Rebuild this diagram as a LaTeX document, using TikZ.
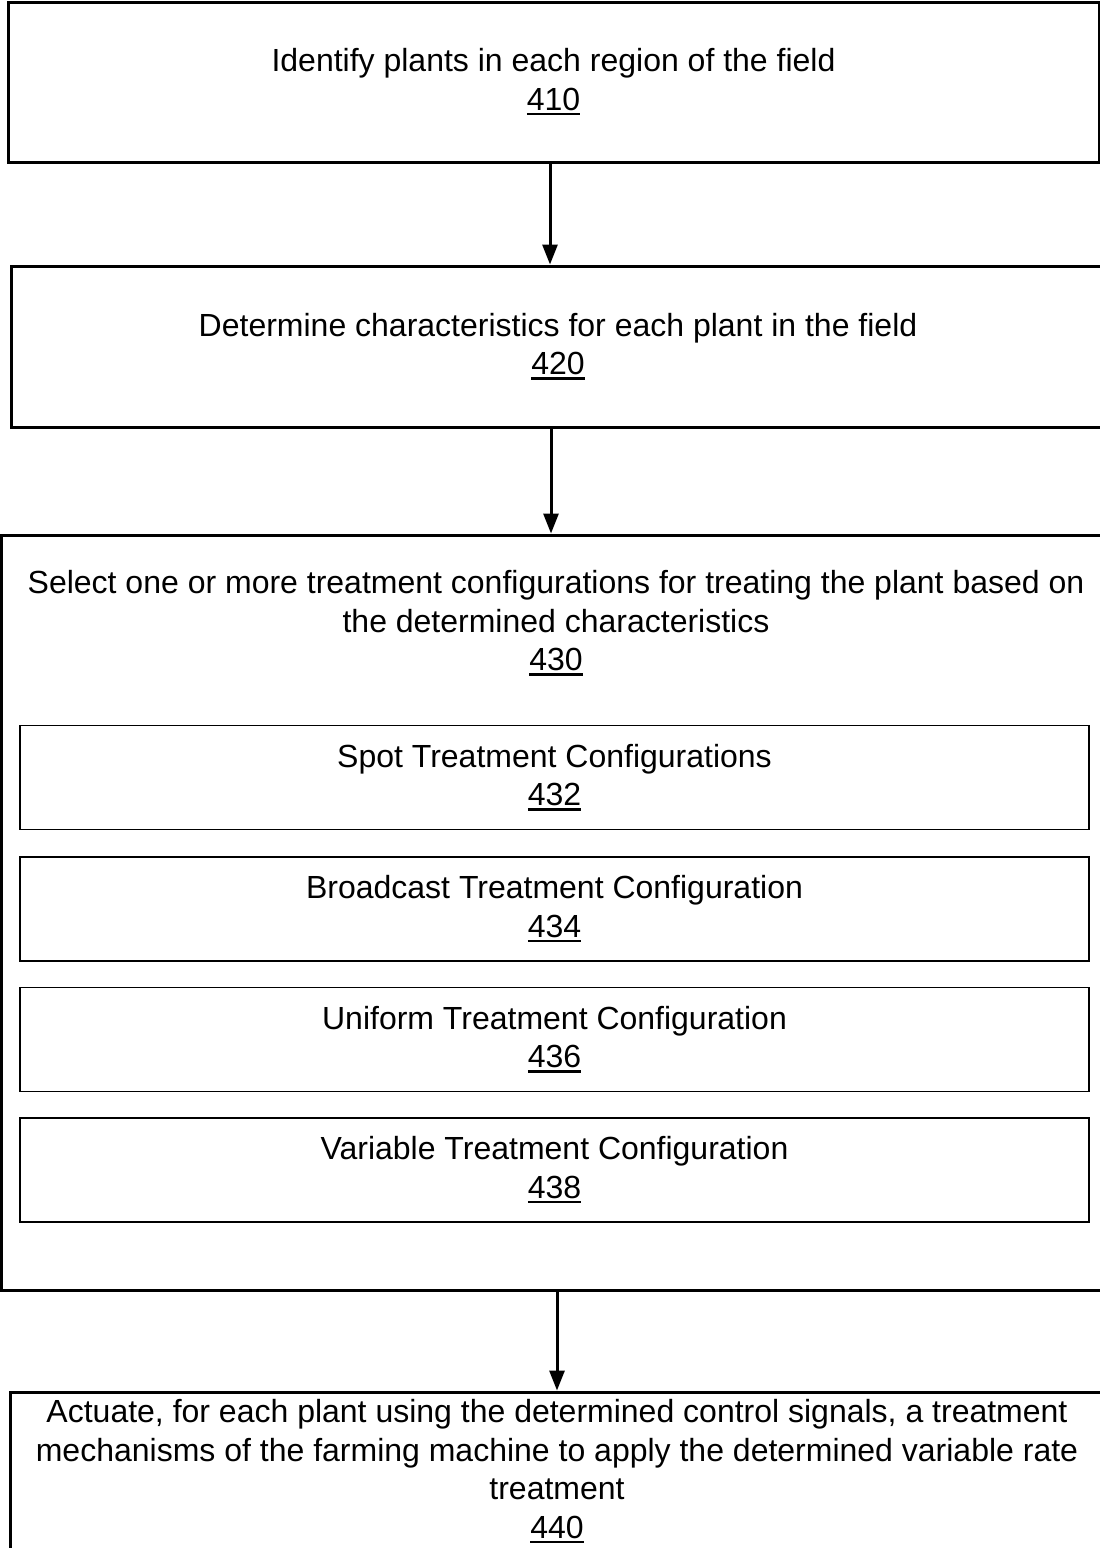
\documentclass[tikz,border=0pt]{standalone}
\usepackage{fontspec}
\setmainfont{Liberation Sans}
\usetikzlibrary{arrows.meta}
% reference numeral with a firm underline
\newcommand{\refnum}[1]{\setbox0=\hbox{#1}\rlap{\rule[-5pt]{\wd0}{2.6pt}}\box0}
\begin{document}
\begin{tikzpicture}[x=1pt,y=-1pt,
  every node/.style={font=\fontsize{32pt}{38.5pt}\selectfont, align=center, inner sep=0pt},
  outerbox/.style={draw, line width=3pt, rectangle},
  innerbox/.style={draw, line width=1.6pt, rectangle, minimum width=1069pt, minimum height=104pt},
  flow/.style={line width=3pt, -{Triangle[length=20pt,width=15pt]}}
]
\useasboundingbox (0,0) rectangle (1100,1548);
\clip (0,0) rectangle (1100,1548);

% step boxes
\node[outerbox, minimum width=1091pt, minimum height=160pt] (s410) at (553.5,82)
  {Identify plants in each region of the field\\\refnum{410}};
\node[outerbox, minimum width=1094pt, minimum height=161pt] (s420) at (558,346.5)
  {Determine characteristics for each plant in the field\\\refnum{420}};
\node[outerbox, minimum width=1110pt, minimum height=755pt] (s430) at (556,912.5) {};
\node (t430) at (556,623)
  {Select one or more treatment configurations for treating the plant based on\\the determined characteristics\\\refnum{430}};

% treatment configurations inside step 430
\node[innerbox] (c432) at (554.5,777.5) {Spot Treatment Configurations\\\refnum{432}};
\node[innerbox] (c434) at (554.5,909) {Broadcast Treatment Configuration\\\refnum{434}};
\node[innerbox] (c436) at (554.5,1039.5) {Uniform Treatment Configuration\\\refnum{436}};
\node[innerbox] (c438) at (554.5,1170) {Variable Treatment Configuration\\\refnum{438}};

\node[outerbox, minimum width=1094pt, minimum height=159pt] (s440) at (557,1471.5)
  {Actuate, for each plant using the determined control signals, a treatment\\mechanisms of the farming machine to apply the determined variable rate\\treatment\\\refnum{440}};

% connectors
\coordinate (x1) at (550,0);
\coordinate (x2) at (551,0);
\coordinate (x3) at (557,0);
\draw[flow] (s410.south -| x1) -- (s420.north -| x1);
\draw[flow] (s420.south -| x2) -- (s430.north -| x2);
\draw[flow] (s430.south -| x3) -- (s440.north -| x3);
\end{tikzpicture}
\end{document}
